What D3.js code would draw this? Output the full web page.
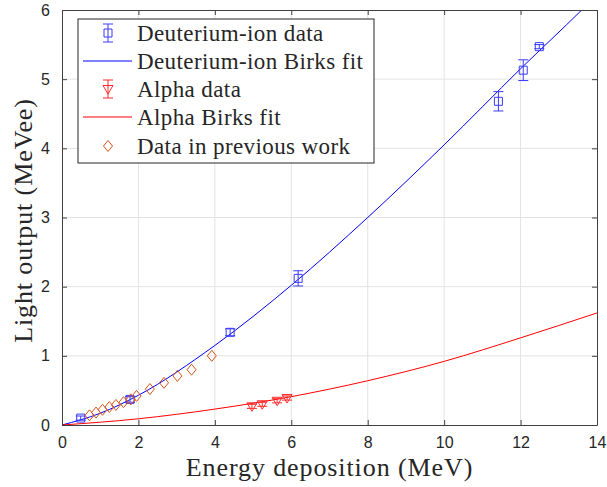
<!DOCTYPE html>
<html>
<head>
<meta charset="utf-8">
<script src="https://cdn.jsdelivr.net/npm/d3@7"></script>
<style>
  body { margin: 0; background: #fff; }
  .tick text { font-family: "Liberation Sans", Arial, sans-serif; font-size: 16px; fill: #262626; }
  .lbl { font-family: "Liberation Serif", "Times New Roman", serif; fill: #262626; }
</style>
</head>
<body>
<div id="chart"></div>
<script>
// Deuterium-ion data (energy MeV, light MeVee, error)
var deutE = [0.49, 1.78, 4.40, 6.18, 11.42, 12.07, 12.49];
var deutL = [0.10, 0.37, 1.34, 2.12, 4.68, 5.13, 5.47];
var deutErr = [0.03, 0.04, 0.05, 0.11, 0.14, 0.15, 0.03];

// Deuterium-ion Birks fit
var deutFitE = [0, 1, 2, 4, 6, 8, 10, 12, 13.6, 14];
var deutFitL = [0, 0.17, 0.43, 1.15, 2.02, 3.0, 4.05, 5.15, 6.0, 6.22];

// Alpha data
var alphaE = [4.97, 5.24, 5.63, 5.89];
var alphaL = [0.27, 0.30, 0.35, 0.39];
var alphaErr = [0.03, 0.03, 0.03, 0.03];

// Alpha Birks fit
var alphaFitE = [0, 2, 4, 6, 8, 10, 12, 14];
var alphaFitL = [0, 0.09, 0.23, 0.41, 0.64, 0.92, 1.26, 1.62];

// Data in previous work
var prevE = [0.72, 0.89, 1.06, 1.24, 1.41, 1.61, 1.80, 1.95, 2.30, 2.67, 3.02, 3.39, 3.92];
var prevL = [0.14, 0.18, 0.22, 0.26, 0.29, 0.33, 0.37, 0.42, 0.52, 0.61, 0.71, 0.80, 1.00];

var xTicks = [0, 2, 4, 6, 8, 10, 12, 14];
var yTicks = [0, 1, 2, 3, 4, 5, 6];
var legendLabels = ["Deuterium-ion data", "Deuterium-ion Birks fit", "Alpha data", "Alpha Birks fit", "Data in previous work"];

var svgWidth = 607;
var svgHeight = 487;
var margin = { top: 10, right: 10, bottom: 62, left: 62 };
var width = svgWidth - margin.left - margin.right;
var height = svgHeight - margin.top - margin.bottom;

var blue = "#0000ff", blueM = "#3a3aff";
var red = "#ff0000", redM = "#ff2a2a";
var orange = "#d95319";
var axisCol = "#404040";

var svg = d3.select("#chart").append("svg")
  .attr("width", svgWidth)
  .attr("height", svgHeight);

var g = svg.append("g")
  .attr("transform", `translate(${margin.left}, ${margin.top})`);

var x = d3.scaleLinear().domain([0, 14]).range([0, width]);
var y = d3.scaleLinear().domain([0, 6]).range([height, 0]);

// grid
g.append("g").selectAll("line").data(xTicks.slice(1, -1)).enter().append("line")
  .attr("x1", d => x(d)).attr("x2", d => x(d))
  .attr("y1", 0).attr("y2", height)
  .attr("stroke", "#e3e3e3");
g.append("g").selectAll("line").data(yTicks.slice(1, -1)).enter().append("line")
  .attr("y1", d => y(d)).attr("y2", d => y(d))
  .attr("x1", 0).attr("x2", width)
  .attr("stroke", "#e3e3e3");

// clip for curves
svg.append("defs").append("clipPath").attr("id", "clip")
  .append("rect").attr("width", width).attr("height", height);

var line = d3.line().x(d => x(d[0])).y(d => y(d[1])).curve(d3.curveMonotoneX);

g.append("path")
  .datum(deutFitE.map((e, i) => [e, deutFitL[i]]))
  .attr("d", line)
  .attr("clip-path", "url(#clip)")
  .attr("fill", "none").attr("stroke", blue).attr("stroke-width", 1);

g.append("path")
  .datum(alphaFitE.map((e, i) => [e, alphaFitL[i]]))
  .attr("d", line)
  .attr("clip-path", "url(#clip)")
  .attr("fill", "none").attr("stroke", red).attr("stroke-width", 1);

// error bars
function errorBars(E, L, Err, col) {
  var eb = g.append("g").attr("stroke", col).attr("stroke-width", 1).attr("fill", "none");
  E.forEach(function(e, i) {
    var cx = x(e), top = y(L[i] + Err[i]), bot = y(L[i] - Err[i]);
    eb.append("line").attr("x1", cx).attr("x2", cx).attr("y1", top).attr("y2", bot);
    eb.append("line").attr("x1", cx - 5).attr("x2", cx + 5).attr("y1", top).attr("y2", top);
    eb.append("line").attr("x1", cx - 5).attr("x2", cx + 5).attr("y1", bot).attr("y2", bot);
  });
}
errorBars(deutE, deutL, deutErr, blueM);
errorBars(alphaE, alphaL, alphaErr, redM);

// markers
var square = d3.symbol().type(d3.symbolSquare).size(64);
var diamond = "M0,-5.5L4.5,0L0,5.5L-4.5,0Z";
var triDown = "M-5,-3.5L5,-3.5L0,5Z";

g.append("g").selectAll("path").data(deutE).enter().append("path")
  .attr("d", square())
  .attr("transform", (d, i) => `translate(${x(d)},${y(deutL[i])})`)
  .attr("fill", "none").attr("stroke", blueM);

g.append("g").selectAll("path").data(alphaE).enter().append("path")
  .attr("d", triDown)
  .attr("transform", (d, i) => `translate(${x(d)},${y(alphaL[i])})`)
  .attr("fill", "none").attr("stroke", redM);

g.append("g").selectAll("path").data(prevE).enter().append("path")
  .attr("d", diamond)
  .attr("transform", (d, i) => `translate(${x(d)},${y(prevL[i])})`)
  .attr("fill", "none").attr("stroke", orange);

// axes with inward ticks on all sides
var fmt = d3.format("d");
var xAxis = g.append("g").attr("transform", `translate(0, ${height})`)
  .call(d3.axisBottom(x).tickValues(xTicks).tickFormat(fmt).tickSizeInner(-5).tickSizeOuter(0).tickPadding(12));
var yAxis = g.append("g")
  .call(d3.axisLeft(y).tickValues(yTicks).tickFormat(fmt).tickSizeInner(-5).tickSizeOuter(0).tickPadding(12));
g.append("g")
  .call(d3.axisTop(x).tickValues(xTicks).tickSizeInner(-5).tickSizeOuter(0).tickFormat(""));
g.append("g").attr("transform", `translate(${width}, 0)`)
  .call(d3.axisRight(y).tickValues(yTicks).tickSizeInner(-5).tickSizeOuter(0).tickFormat(""));
g.selectAll(".domain").attr("stroke", axisCol);
g.selectAll(".tick line").attr("stroke", axisCol);
xAxis.selectAll("text").attr("dy", "0.71em");

// axis labels
svg.append("text").attr("class", "lbl")
  .attr("x", margin.left + width / 2).attr("y", 476)
  .attr("text-anchor", "middle").style("font-size", "26px").style("letter-spacing", "0.9px")
  .text("Energy deposition (MeV)");

svg.append("text").attr("class", "lbl")
  .attr("transform", `translate(32, ${margin.top + height / 2 + 3}) rotate(-90)`)
  .attr("text-anchor", "middle").style("font-size", "26px").style("letter-spacing", "0.9px")
  .text("Light output (MeVee)");

// legend
var lg = svg.append("g").attr("transform", "translate(78, 19)");
lg.append("rect").attr("width", 296).attr("height", 144)
  .attr("fill", "#fff").attr("stroke", "#262626").attr("stroke-width", 1);

var rowY = [14, 42, 70, 98, 127];
legendLabels.forEach(function(t, i) {
  lg.append("text").attr("class", "lbl")
    .attr("x", 59).attr("y", rowY[i]).attr("dy", "0.35em")
    .style("font-size", "23px").style("letter-spacing", "0.4px").text(t);
});
var mx = 30;
// deuterium marker with error bar
lg.append("line").attr("x1", mx).attr("x2", mx).attr("y1", rowY[0] - 9).attr("y2", rowY[0] + 9).attr("stroke", blueM);
lg.append("line").attr("x1", mx - 5).attr("x2", mx + 5).attr("y1", rowY[0] - 9).attr("y2", rowY[0] - 9).attr("stroke", blueM);
lg.append("line").attr("x1", mx - 5).attr("x2", mx + 5).attr("y1", rowY[0] + 9).attr("y2", rowY[0] + 9).attr("stroke", blueM);
lg.append("path").attr("d", square()).attr("transform", `translate(${mx},${rowY[0]})`).attr("fill", "none").attr("stroke", blueM);
// deuterium fit
lg.append("line").attr("x1", 5).attr("x2", 54).attr("y1", rowY[1]).attr("y2", rowY[1]).attr("stroke", blue);
// alpha marker with error bar
lg.append("line").attr("x1", mx).attr("x2", mx).attr("y1", rowY[2] - 9).attr("y2", rowY[2] + 9).attr("stroke", redM);
lg.append("line").attr("x1", mx - 5).attr("x2", mx + 5).attr("y1", rowY[2] - 9).attr("y2", rowY[2] - 9).attr("stroke", redM);
lg.append("line").attr("x1", mx - 5).attr("x2", mx + 5).attr("y1", rowY[2] + 9).attr("y2", rowY[2] + 9).attr("stroke", redM);
lg.append("path").attr("d", triDown).attr("transform", `translate(${mx},${rowY[2]})`).attr("fill", "none").attr("stroke", redM);
// alpha fit
lg.append("line").attr("x1", 5).attr("x2", 54).attr("y1", rowY[3]).attr("y2", rowY[3]).attr("stroke", red);
// previous work
lg.append("path").attr("d", diamond).attr("transform", `translate(${mx},${rowY[4]})`).attr("fill", "none").attr("stroke", orange);
</script>
</body>
</html>
